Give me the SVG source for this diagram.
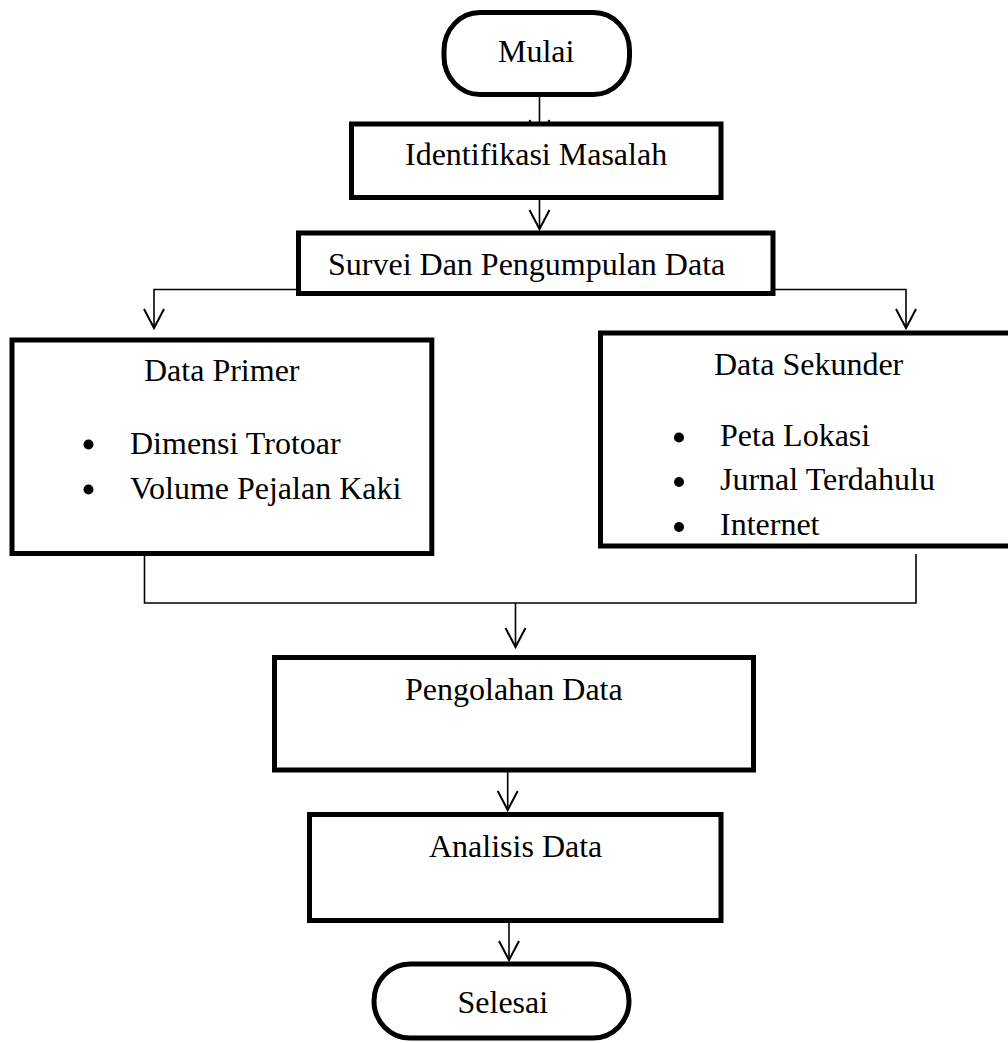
<svg xmlns="http://www.w3.org/2000/svg" width="1008" height="1043" viewBox="0 0 1008 1043">
<style>
.box{fill:#fff;stroke:#000;stroke-width:5}
.ln{fill:none;stroke:#000;stroke-width:1.6}
.ah{fill:none;stroke:#000;stroke-width:2}
text{font-family:"Liberation Serif","Times New Roman",serif;font-size:32px;fill:#000}
</style>
<defs>
<path id="head" class="ah" d="M-10,-19 L0,0 L10,-19"/>
</defs>
<rect width="1008" height="1043" fill="#fff"/>
<g id="connectors">
<path class="ln" d="M539.5,96 V139"/>
<use href="#head" x="539.5" y="139"/>
<path class="ln" d="M539.5,200 V229"/>
<use href="#head" x="539.5" y="229"/>
<path class="ln" d="M298,289.5 H154 V328"/>
<use href="#head" x="154" y="328"/>
<path class="ln" d="M773,289.5 H906 V328"/>
<use href="#head" x="906" y="328"/>
<path class="ln" d="M144.5,556 V603 H916 V554"/>
<path class="ln" d="M515.5,603 V647"/>
<use href="#head" x="515.5" y="647"/>
<path class="ln" d="M507.7,772 V810"/>
<use href="#head" x="507.7" y="810"/>
<path class="ln" d="M509,923 V960"/>
<use href="#head" x="509" y="960"/>
</g>
<g id="mulai">
<rect class="box" x="444" y="12.5" width="185.5" height="82" rx="36" ry="38"/>
<text x="498" y="62">Mulai</text>
</g>
<g id="identifikasi">
<rect class="box" x="351.5" y="124" width="369.5" height="73.5"/>
<text x="405" y="165">Identifikasi Masalah</text>
</g>
<g id="survei">
<rect class="box" x="298.5" y="233" width="474.5" height="60.5"/>
<text x="328" y="275">Survei Dan Pengumpulan Data</text>
</g>
<g id="primer">
<rect class="box" x="12" y="340" width="419.8" height="213.5"/>
<text x="144" y="381">Data Primer</text>
<circle cx="88.5" cy="444.5" r="5"/>
<text x="130" y="453.5">Dimensi Trotoar</text>
<circle cx="88.5" cy="489.5" r="5"/>
<text x="130" y="498.5">Volume Pejalan Kaki</text>
</g>
<g id="sekunder">
<rect class="box" x="600.5" y="333" width="415" height="213"/>
<text x="714" y="375">Data Sekunder</text>
<circle cx="679" cy="437.5" r="5"/>
<text x="720" y="446">Peta Lokasi</text>
<circle cx="679" cy="482" r="5"/>
<text x="720" y="490">Jurnal Terdahulu</text>
<circle cx="679" cy="527" r="5"/>
<text x="720" y="535">Internet</text>
</g>
<g id="pengolahan">
<rect class="box" x="274.5" y="657.5" width="479" height="112.5"/>
<text x="405" y="700">Pengolahan Data</text>
</g>
<g id="analisis">
<rect class="box" x="309.5" y="814.5" width="411.5" height="106"/>
<text x="429" y="857">Analisis Data</text>
</g>
<g id="selesai">
<rect class="box" x="374" y="964" width="255" height="74" rx="36" ry="37"/>
<text x="457.5" y="1013">Selesai</text>
</g>
</svg>
